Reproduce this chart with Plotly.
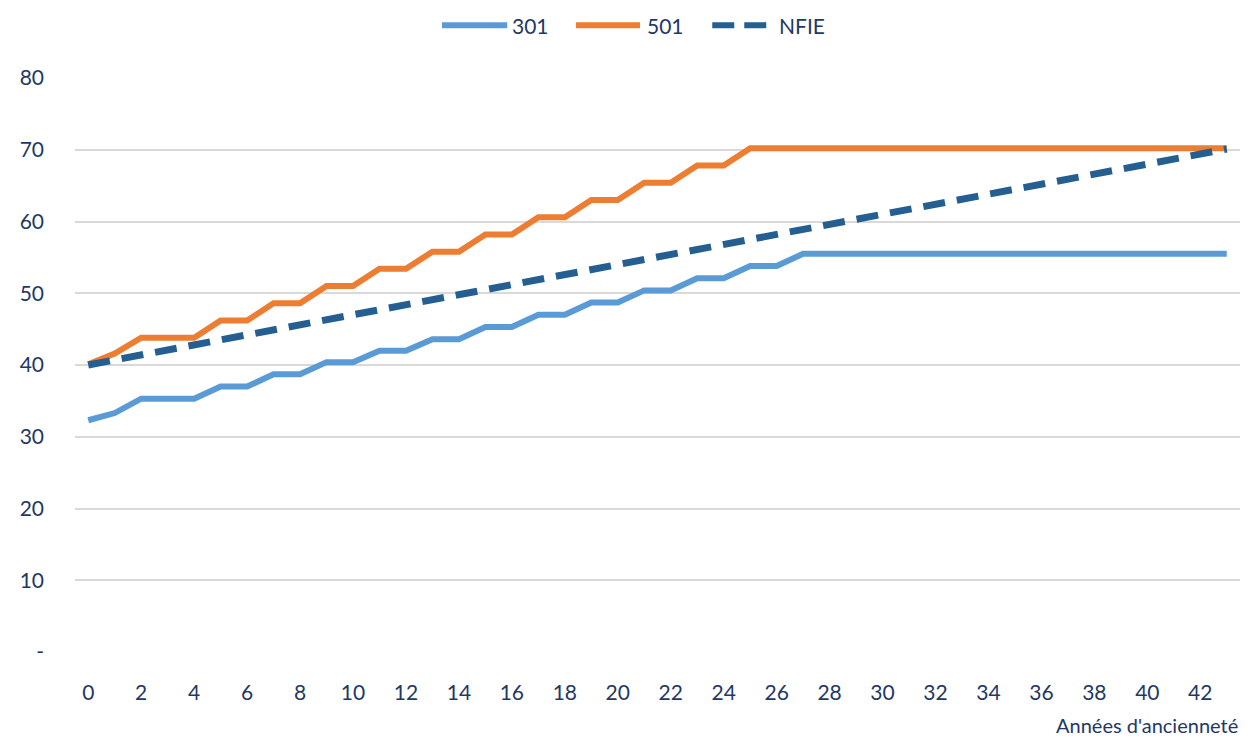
import plotly.graph_objects as go

# Years of seniority
years = list(range(0, 44))

# Salary index per seniority year
grid_301 = [32.3, 33.3, 35.3, 35.3, 35.3, 37.0, 37.0, 38.7, 38.7, 40.4, 40.4,
            42.0, 42.0, 43.6, 43.6, 45.3, 45.3, 47.0, 47.0, 48.7, 48.7, 50.4,
            50.4, 52.1, 52.1, 53.8, 53.8, 55.5, 55.5, 55.5, 55.5, 55.5, 55.5,
            55.5, 55.5, 55.5, 55.5, 55.5, 55.5, 55.5, 55.5, 55.5, 55.5, 55.5]

grid_501 = [40.1, 41.6, 43.8, 43.8, 43.8, 46.2, 46.2, 48.6, 48.6, 51.0, 51.0,
            53.4, 53.4, 55.8, 55.8, 58.2, 58.2, 60.6, 60.6, 63.0, 63.0, 65.4,
            65.4, 67.8, 67.8, 70.2, 70.2, 70.2, 70.2, 70.2, 70.2, 70.2, 70.2,
            70.2, 70.2, 70.2, 70.2, 70.2, 70.2, 70.2, 70.2, 70.2, 70.2, 70.2]

nfie = [40.0, 40.7, 41.4, 42.1, 42.8, 43.5, 44.2, 44.9, 45.6, 46.3, 47.0,
        47.7, 48.4, 49.1, 49.8, 50.5, 51.2, 51.9, 52.6, 53.3, 54.0, 54.7,
        55.4, 56.1, 56.8, 57.5, 58.2, 58.9, 59.6, 60.3, 61.0, 61.7, 62.4,
        63.1, 63.8, 64.5, 65.2, 65.9, 66.6, 67.3, 68.0, 68.7, 69.4, 70.1]

series_names = ["301", "501", "NFIE"]
series_colors = ["#5B9BD5", "#ED7D31", "#255E91"]

y_tickvals = [0, 10, 20, 30, 40, 50, 60, 70, 80]
y_ticktext = ["-", "10", "20", "30", "40", "50", "60", "70", "80"]
x_tickvals = list(range(0, 43, 2))

FONT = "Lato"
TEXT_COLOR = "#1F3864"

fig = go.Figure()
fig.add_trace(go.Scatter(x=years, y=grid_301, name=series_names[0], mode="lines",
                         line=dict(color=series_colors[0], width=6)))
fig.add_trace(go.Scatter(x=years, y=grid_501, name=series_names[1], mode="lines",
                         line=dict(color=series_colors[1], width=6)))
fig.add_trace(go.Scatter(x=years, y=nfie, name=series_names[2], mode="lines",
                         line=dict(color=series_colors[2], width=7, dash="22px,12px")))

# Legend drawn as paper-anchored swatches above the plot
legend_y = 1.092
swatches = [(0.315, 0.371, "solid"), (0.430, 0.485, "solid"), (0.547, 0.597, "22px,10px")]
label_x = [0.373, 0.489, 0.603]
shapes = []
annotations = []
for (x0, x1, dash), lx, name, color in zip(swatches, label_x, series_names, series_colors):
    shapes.append(dict(type="line", xref="paper", yref="paper", x0=x0, x1=x1,
                       y0=legend_y, y1=legend_y,
                       line=dict(color=color, width=6, dash=dash)))
    annotations.append(dict(text=name, xref="paper", yref="paper", x=lx, y=legend_y,
                            xanchor="left", yanchor="middle", showarrow=False,
                            font=dict(size=21, color=TEXT_COLOR)))

annotations.append(dict(text="Années d'ancienneté", xref="paper", yref="paper",
                        x=1.0, y=-0.128, xanchor="right", yanchor="middle",
                        showarrow=False, font=dict(size=20, color=TEXT_COLOR)))

fig.update_layout(
    width=1253, height=742,
    margin=dict(l=75, r=13, t=78, b=90),
    paper_bgcolor="white", plot_bgcolor="white",
    font=dict(family=FONT, size=21, color=TEXT_COLOR),
    showlegend=False,
    xaxis=dict(range=[-0.5, 43.5], tickvals=x_tickvals, showgrid=False,
               zeroline=False, showline=False, ticks="", ticklabelstandoff=26,
               tickfont=dict(size=21, color=TEXT_COLOR)),
    yaxis=dict(range=[0, 80], tickvals=y_tickvals, ticktext=y_ticktext,
               showgrid=True, gridcolor="#D9D9D9", gridwidth=2,
               zeroline=False, showline=False, ticks="", ticklabelstandoff=30,
               tickfont=dict(size=21, color=TEXT_COLOR)),
    shapes=shapes,
    annotations=annotations,
)

fig.write_html("out.html")
